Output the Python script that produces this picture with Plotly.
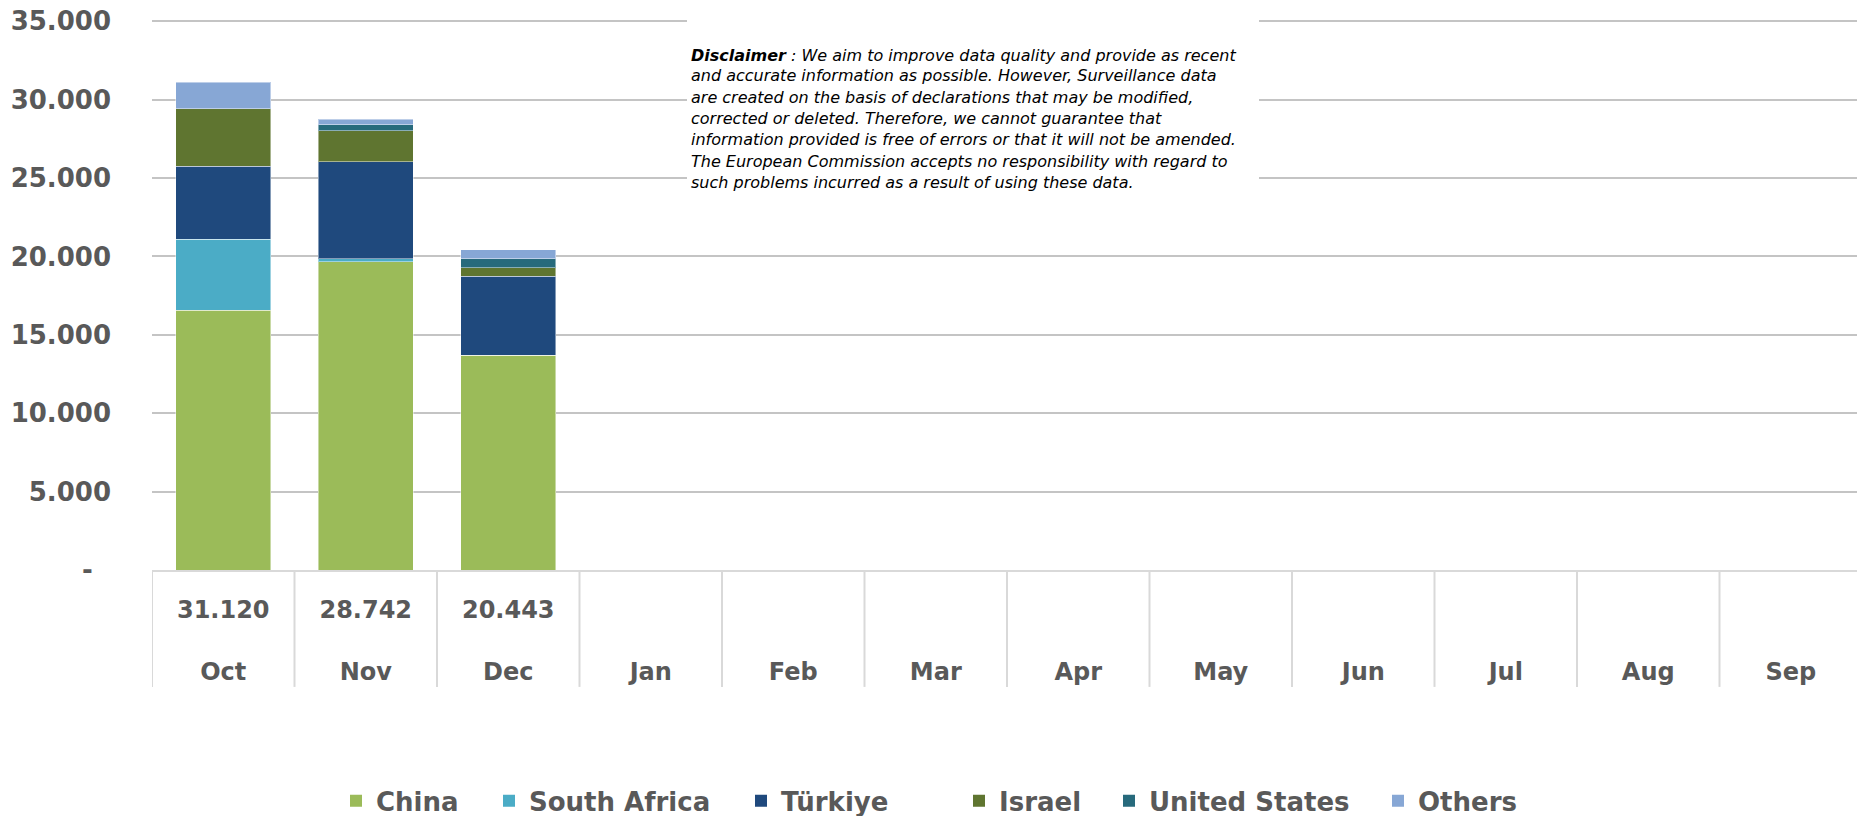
import plotly.graph_objects as go

months = ["Oct", "Nov", "Dec", "Jan", "Feb", "Mar", "Apr", "May", "Jun", "Jul", "Aug", "Sep"]
data_months = ["Oct", "Nov", "Dec"]
china = [16560, 19680, 13710]
south_africa = [4530, 190, 0]
turkiye = [4660, 6160, 5030]
israel = [3680, 1980, 550]
united_states = [0, 410, 570]
others = [1690, 322, 583]

series = [
    ("China", china, "#9BBB59"),
    ("South Africa", south_africa, "#4BACC6"),
    ("Türkiye", turkiye, "#1F497D"),
    ("Israel", israel, "#5F7530"),
    ("United States", united_states, "#276A7C"),
    ("Others", others, "#87A7D5"),
]

y_tickvals = [0, 5000, 10000, 15000, 20000, 25000, 30000, 35000]
y_ticktext = ["-\u00a0\u00a0", "5.000", "10.000", "15.000", "20.000", "25.000", "30.000", "35.000"]

disclaimer_lines = [
    "<b>Disclaimer</b> : We aim to improve data quality and provide as recent",
    "and accurate information as possible. However, Surveillance data",
    "are created on the basis of declarations that may be modified,",
    "corrected or deleted. Therefore, we cannot guarantee that",
    "information provided is free of errors or that it will not be amended.",
    "The European Commission accepts no responsibility with regard to",
    "such problems incurred as a result of using these data.",
]

# the page body has an 8px margin, so the figure is drawn 8px in from the corner
OFF = 8
W, H = 1865 - OFF, 816 - OFF
Y_TOP_TICK = 35000
RMAX = 35150          # a little headroom so the 35.000 gridline is drawn
SCR_B = 570           # screen y of value 0
SCR_TICK_TOP = 21     # screen y of value 35000
SCR_L, SCR_R = 152, 1862
SCR_T = SCR_B - (SCR_B - SCR_TICK_TOP) * RMAX / Y_TOP_TICK
PL = SCR_L - OFF
PR = W - (SCR_R - OFF)
PT = SCR_T - OFF
PB = H - (SCR_B - OFF)
pw, ph = SCR_R - SCR_L, SCR_B - SCR_T


def px_x(x):
    return (x - SCR_L) / pw


def px_y(y):
    return (SCR_B - y) / ph


totals = [sum(s[1][i] for s in series) for i in range(len(data_months))]
ticktext = []
for m in months:
    if m in data_months:
        t = totals[data_months.index(m)]
        lab = f"{t:,}".replace(",", ".")
    else:
        lab = "\u00a0"
    ticktext.append(f"{lab}<br>\u00a0<br>{m}")

GRAY = "#595959"
FONT = "DejaVu Sans"

fig = go.Figure()
# stacked bars (legend entries are drawn with larger swatches below)
for name, vals, col in series:
    fig.add_trace(go.Bar(
        x=data_months, y=vals, name=name, showlegend=False,
        marker=dict(color=col, line=dict(color="rgba(255,255,255,0.45)", width=1)),
    ))

legend_px = [336, 489, 741, 959, 1109, 1378]
for k, (name, vals, col) in enumerate(series):
    lname = "legend" if k == 0 else f"legend{k+1}"
    fig.add_trace(go.Scatter(
        x=[None], y=[None], mode="markers", name=name, legend=lname,
        marker=dict(symbol="square", size=18, color=col),
        showlegend=True, hoverinfo="skip",
    ))

layout_legends = {}
for k, lx in enumerate(legend_px):
    lname = "legend" if k == 0 else f"legend{k+1}"
    layout_legends[lname] = dict(
        x=px_x(lx), y=px_y(801), xanchor="left", yanchor="middle",
        orientation="h", bgcolor="rgba(0,0,0,0)", itemsizing="constant",
        font=dict(family=FONT, size=26, color=GRAY, weight="bold"),
        itemclick=False, itemdoubleclick=False,
    )

shapes = []
for i in range(len(months) + 1):
    shapes.append(dict(
        type="line", xref="x", yref="paper",
        x0=i - 0.5, x1=i - 0.5, y0=0, y1=px_y(687),
        line=dict(color="#D9D9D9", width=2), layer="above",
    ))
shapes.append(dict(
    type="rect", xref="paper", yref="paper",
    x0=px_x(687), x1=px_x(1259), y0=px_y(198), y1=px_y(12),
    fillcolor="white", line=dict(width=0), layer="above",
))

annotations = []
line_y = [55, 75.5, 96.7, 118, 139.5, 161, 182]
for txt, ly in zip(disclaimer_lines, line_y):
    annotations.append(dict(
        text=txt, xref="paper", yref="paper", x=px_x(689), y=px_y(ly),
        xanchor="left", yanchor="middle", showarrow=False,
        font=dict(family=FONT, size=16, color="black", style="italic"),
    ))

fig.update_layout(
    width=W, height=H,
    margin=dict(l=PL, r=PR, t=PT, b=PB, pad=0, autoexpand=False),
    barmode="stack", bargap=0.333,
    plot_bgcolor="white", paper_bgcolor="white",
    showlegend=True,
    shapes=shapes, annotations=annotations,
    **layout_legends,
)
fig.update_xaxes(
    type="category", categoryorder="array", categoryarray=months,
    range=[-0.5, len(months) - 0.5],
    tickmode="array", tickvals=months, ticktext=ticktext,
    tickfont=dict(family=FONT, size=24, color=GRAY, weight="bold"),
    showgrid=False, showline=True, linecolor="#D9D9D9", linewidth=2,
    ticks="", ticklabelstandoff=17, automargin=False,
)
fig.update_yaxes(
    range=[0, RMAX], tickmode="array", tickvals=y_tickvals, ticktext=y_ticktext,
    tickfont=dict(family=FONT, size=26, color=GRAY, weight="bold"),
    showgrid=True, gridcolor="#C4C4C4", gridwidth=2, zeroline=False,
    showline=False, ticks="", ticklabelstandoff=40, automargin=False,
    ticklabeloverflow="allow",
)

fig.write_html("out.html")
